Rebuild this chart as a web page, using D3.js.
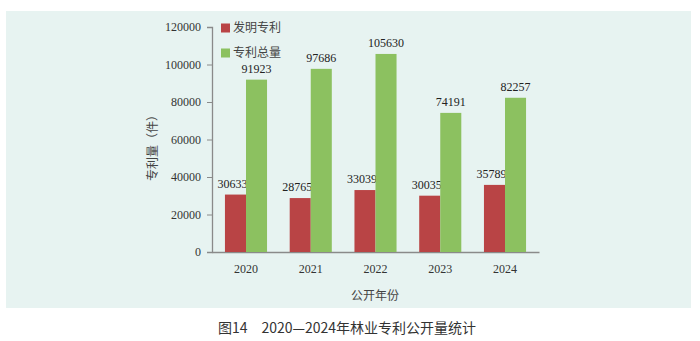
<!DOCTYPE html>
<html><head><meta charset="utf-8">
<script src="https://cdn.jsdelivr.net/npm/d3@7"></script>
<style>body{margin:0;background:#fff;}svg{display:block;}</style>
</head><body>
<svg id="c" width="700" height="341"></svg>
<script>
const years = ["2020","2021","2022","2023","2024"];
const invention = [30633, 28765, 33039, 30035, 35789];
const total = [91923, 97686, 105630, 74191, 82257];
const yTicks = [0, 20000, 40000, 60000, 80000, 100000, 120000];
const seriesNames = ["发明专利", "专利总量"];
const colors = ["#b94445", "#8cc160"];

const svg = d3.select("#c");
svg.append("rect").attr("x",6).attr("y",11).attr("width",685).attr("height",297).attr("fill","#e7f3f1");

const x = d3.scaleBand().domain(years).range([212,539]).paddingInner(0.35).paddingOuter(0.2);
const sub = d3.scaleBand().domain([0,1]).range([0, x.bandwidth()]);
const y = d3.scaleLinear().domain([0,120000]).range([252,27]);

const serif = "'Liberation Serif','Times New Roman',serif";
const cjk = "'Noto Sans CJK SC',sans-serif";

// y axis
const ya = svg.append("g").attr("transform","translate(212,0)")
  .call(d3.axisLeft(y).tickValues(yTicks).tickSize(5).tickPadding(6).tickFormat(d3.format("d")));
ya.select(".domain").attr("stroke","#8a8a8a").attr("stroke-width",1.3);
ya.selectAll(".tick line").attr("stroke","#8a8a8a");
ya.selectAll("text").attr("font-family",serif).attr("font-size",12).attr("fill","#333");

// x axis
const xa = svg.append("g").attr("transform","translate(0,252)")
  .call(d3.axisBottom(x).tickSize(0).tickPadding(12));
xa.select(".domain").attr("stroke","#8a8a8a").attr("stroke-width",1.3);
xa.selectAll("text").attr("font-family",serif).attr("font-size",12).attr("fill","#333");

const data = [invention, total];
data.forEach((vals, s) => {
  svg.append("g").selectAll("rect").data(vals).join("rect")
    .attr("x",(d,i)=>x(years[i])+sub(s))
    .attr("y",d=>y(d))
    .attr("width",sub.bandwidth())
    .attr("height",d=>y(0)-y(d))
    .attr("fill",colors[s]);
  svg.append("g").selectAll("text").data(vals).join("text")
    .attr("x",(d,i)=>x(years[i])+sub(s)+sub.bandwidth()/2 - (s===0?3:0))
    .attr("y",d=>y(d)-7)
    .attr("text-anchor","middle")
    .attr("font-family",serif).attr("font-size",12).attr("fill","#222")
    .text(d=>d);
});

// legend
seriesNames.forEach((n,i)=>{
  const ly = 28 + i*25;
  svg.append("rect").attr("x",221).attr("y",ly-4.5).attr("width",9).attr("height",9).attr("fill",colors[i]);
  svg.append("text").attr("x",233).attr("y",ly).attr("dy","0.34em")
    .attr("font-family",cjk).attr("font-size",12).attr("fill","#444").text(n);
});

// axis titles
svg.append("text").attr("transform","translate(153,145) rotate(-90)")
  .attr("text-anchor","middle").attr("dy","0.36em")
  .attr("font-family",cjk).attr("font-size",12).attr("fill","#444").text("专利量（件）");
svg.append("text").attr("x",375).attr("y",296).attr("dy","0.36em").attr("text-anchor","middle")
  .attr("font-family",cjk).attr("font-size",12).attr("fill","#444").text("公开年份");

// caption
svg.append("text").attr("x",347).attr("y",328).attr("dy","0.36em").attr("text-anchor","middle")
  .attr("font-family",cjk).attr("font-size",14).attr("fill","#333").text("图14　2020—2024年林业专利公开量统计");
</script>
</body></html>
